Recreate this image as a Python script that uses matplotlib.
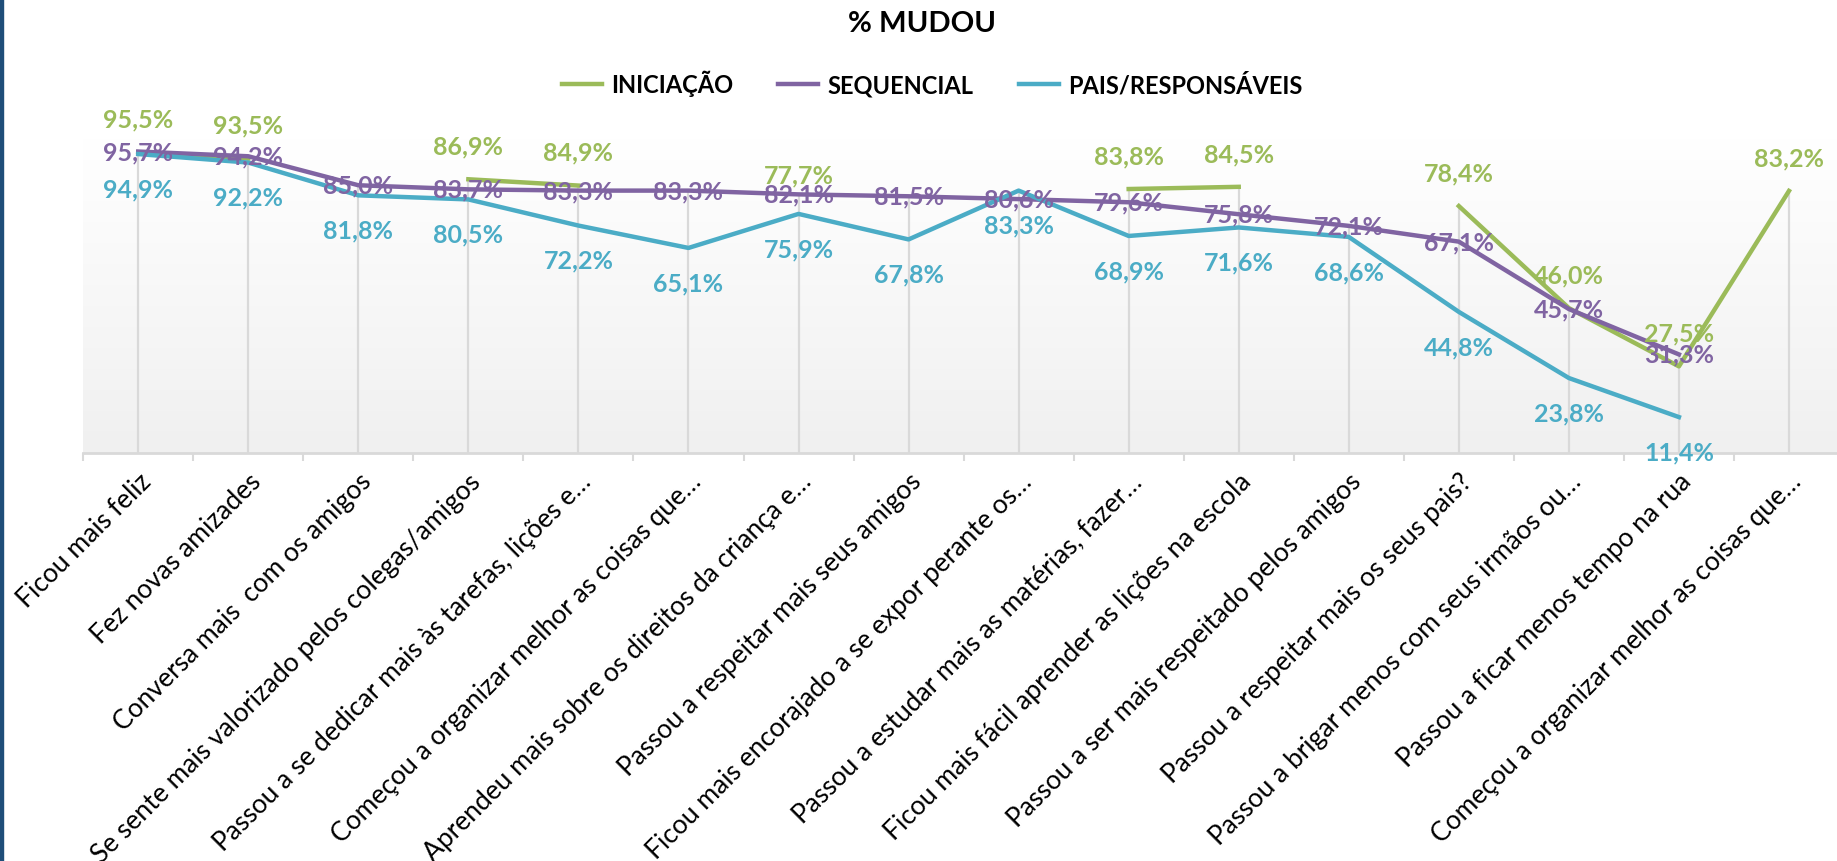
import numpy as np
import matplotlib
matplotlib.use("Agg")
import matplotlib.pyplot as plt
from matplotlib.lines import Line2D
from matplotlib.colors import LinearSegmentedColormap
from matplotlib.patches import Rectangle

plt.rcParams['font.family'] = ['Lato', 'DejaVu Sans']

# === data ===
categories = [
    "Ficou mais feliz",
    "Fez novas amizades",
    "Conversa mais  com os amigos",
    "Se sente mais valorizado pelos colegas/amigos",
    "Passou a se dedicar mais às tarefas, lições e…",
    "Começou a organizar melhor as coisas que…",
    "Aprendeu mais sobre os direitos da criança e…",
    "Passou a respeitar mais seus amigos",
    "Ficou mais encorajado a se expor perante os…",
    "Passou a estudar mais as matérias, fazer…",
    "Ficou mais fácil aprender as lições na escola",
    "Passou a ser mais respeitado pelos amigos",
    "Passou a respeitar mais os seus pais?",
    "Passou a brigar menos com seus irmãos ou…",
    "Passou a ficar menos tempo na rua",
    "Começou a organizar melhor as coisas que…",
]
nan = np.nan
iniciacao = [95.5, 93.5, nan, 86.9, 84.9, nan, 77.7, nan, nan, 83.8, 84.5, nan, 78.4, 46.0, 27.5, 83.2]
sequencial = [95.7, 94.2, 85.0, 83.7, 83.3, 83.3, 82.1, 81.5, 80.6, 79.6, 75.8, 72.1, 67.1, 45.7, 31.3, nan]
pais = [94.9, 92.2, 81.8, 80.5, 72.2, 65.1, 75.9, 67.8, 83.3, 68.9, 71.6, 68.6, 44.8, 23.8, 11.4, nan]

series_names = ["INICIAÇÃO", "SEQUENCIAL", "PAIS/RESPONSÁVEIS"]
colors = ["#9BBB59", "#8064A2", "#4BACC6"]

W, H = 1837, 862
fig = plt.figure(figsize=(W / 100, H / 100), dpi=100)
fig.patch.set_facecolor('white')

# left edge bar
fig.patches.append(Rectangle((0, 0), 3 / W, 1, transform=fig.transFigure,
                             color='#1F4E79', zorder=10))

ax_left, ax_right, ax_top, ax_bot = 83.2, 1844, 139, 454
ax = fig.add_axes([ax_left / W, 1 - ax_bot / H, (ax_right - ax_left) / W, (ax_bot - ax_top) / H])

x = np.arange(len(categories))
ax.set_xlim(-0.5, len(categories) - 0.5)
ax.set_ylim(0, 100)

# gradient plot area
grad = np.linspace(0, 1, 256).reshape(-1, 1)
cmap = LinearSegmentedColormap.from_list('bg', ['#ffffff', '#f0f0f0'])
ax.imshow(grad, cmap=cmap, extent=[-0.5, len(categories) - 0.5, 0, 100],
          aspect='auto', zorder=0)

# drop lines from the highest point of each category
all_vals = np.array([iniciacao, sequencial, pais], dtype=float)
tops = np.nanmax(all_vals, axis=0)
ax.vlines(x, 0, tops, color='#d9d9d9', lw=1.6, zorder=1)

for vals, c in zip([iniciacao, sequencial, pais], colors):
    ax.plot(x, vals, color=c, lw=3.2, zorder=2)

def fmt(v):
    return f"{v:.1f}".replace('.', ',') + '%'

offsets = [24, 0, -25]
for vals, c, off in zip([iniciacao, sequencial, pais], colors, offsets):
    for i, v in enumerate(vals):
        if np.isnan(v):
            continue
        ax.annotate(fmt(v), (i, v), xytext=(0, off), textcoords='offset points',
                    ha='center', va='center', color=c, fontsize=18,
                    fontweight='bold', annotation_clip=False, zorder=5)

for s in ['left', 'right', 'top']:
    ax.spines[s].set_visible(False)
ax.spines['bottom'].set_color('#d9d9d9')
ax.spines['bottom'].set_linewidth(2)
ax.set_yticks([])

ax.set_xticks(x)
ax.set_xticklabels(categories, rotation=45, ha='right', va='top',
                   rotation_mode='anchor', fontsize=19)
ax.tick_params(axis='x', which='major', length=0, pad=11)
ax.set_xticks(np.arange(-0.5, len(categories), 1), minor=True)
ax.tick_params(axis='x', which='minor', length=6, width=1.5, color='#d9d9d9')

fig.text(922 / W, 1 - 24 / H, '% MUDOU', ha='center', va='center',
         fontsize=21, fontweight='bold')

handles = [Line2D([0], [0], color=c, lw=3.2) for c in colors]
fig.legend(handles, series_names, loc='center', bbox_to_anchor=(932 / W, 1 - 84 / H),
           ncol=3, frameon=False, handlelength=1.7, handletextpad=0.4,
           columnspacing=1.9, prop={'weight': 'bold', 'size': 17})

fig.savefig('out.png', dpi=100)
